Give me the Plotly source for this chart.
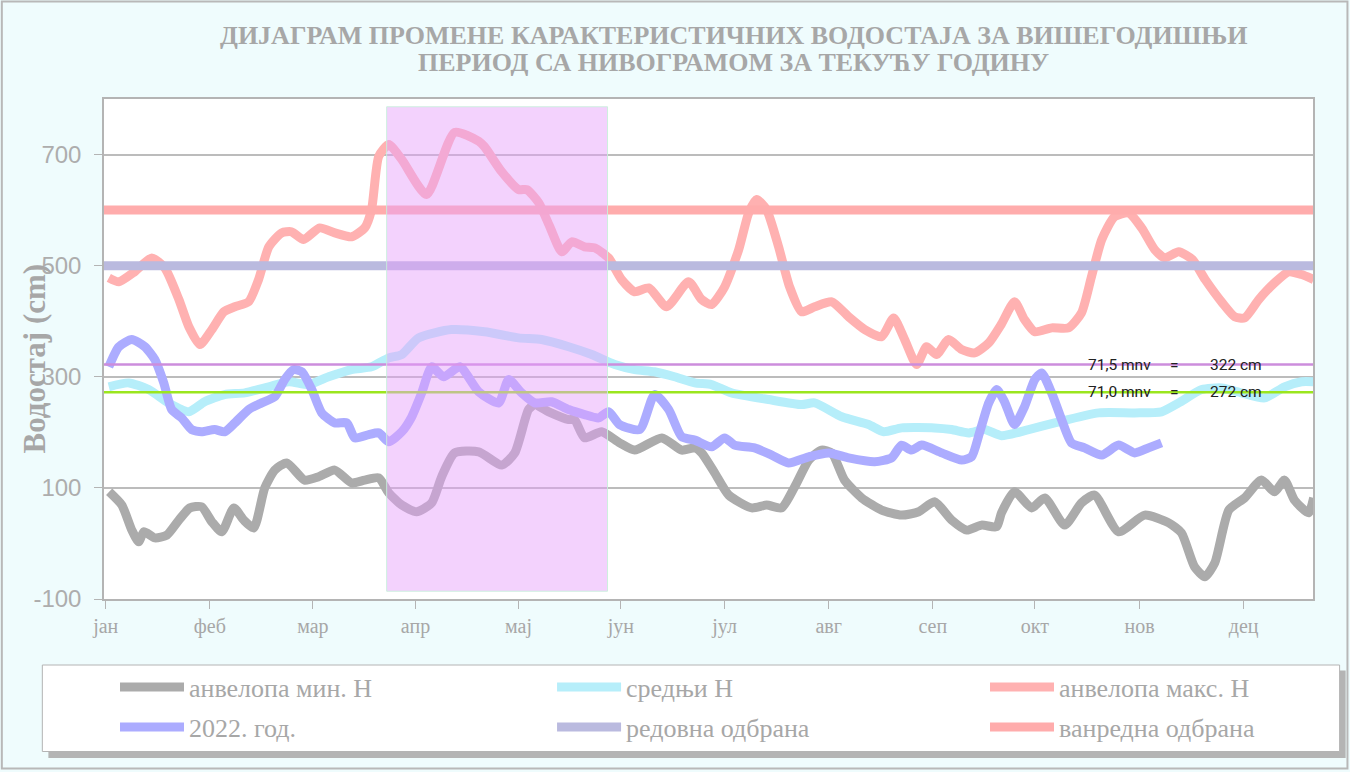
import plotly.graph_objects as go

# --- data (x = day of year index, y = water level in cm) ---
months = ["јан", "феб", "мар", "апр", "мај", "јун", "јул", "авг", "сеп", "окт", "нов", "дец"]
month_pos = [0, 30.3, 60.3, 90.2, 120.2, 150, 180.2, 210.5, 240.8, 270.5, 301, 331.3]
y_ticks = [-100, 100, 300, 500, 700]
y_ticktext = ["-100", "100", "300", "500", "700"]

min_x = [1, 4.7, 7.6, 9.6, 11.1, 14.3, 17.8, 21.3, 24.5, 27.9, 30.9, 33.8, 37.3, 40.2, 43.1, 46.3,
         49.2, 52.7, 57.9, 62, 66.7, 71.6, 75.4, 79.5, 82.4, 86.2, 90.5, 94.9, 97.8, 101.6, 108.6,
         115.3, 119.1, 123.1, 124.9, 129, 134.8, 136.5, 139.4, 144.4, 149.6, 154, 161.9, 167.7,
         171.5, 173.5, 177.3, 181.4, 188.1, 192.4, 196.8, 200.6, 204.7, 208.4, 211.4, 215.1, 220.1,
         225.9, 231.7, 236.7, 241.3, 246.3, 250.7, 255, 259.4, 260.8, 264.6, 269.6, 273.4, 279.2,
         284.1, 287.9, 294.9, 302.5, 309.5, 313.2, 317, 320, 322.9, 327, 331.6, 336.5, 340.3, 343.2,
         346.1, 350.2, 351.7]
min_y = [93, 69, 24, 3, 21, 10, 15, 42, 64, 66, 39, 21, 64, 42, 28, 100,
         132, 145, 114, 120, 132, 109, 114, 118, 91, 69, 57, 73, 120, 163, 165,
         141, 163, 241, 250, 237, 223, 223, 190, 201, 181, 168, 190, 168,
         172, 163, 127, 87, 64, 69, 64, 102, 150, 168, 163, 114, 82,
         60, 51, 57, 75, 42, 24, 33, 30, 55, 93, 64, 82, 33,
         73, 87, 21, 51, 37, 19, -42, -60, -35, 60, 82, 114, 93, 114,
         78, 55, 82]

mean_x = [0.9, 6.7, 12.5, 18.3, 24.2, 28.8, 34.6, 40.5, 47.5, 53.3, 59.1, 64.9, 71.6, 77.4, 82.4,
          86.2, 91.1, 100.7, 110.3, 120.2, 126.9, 134.8, 141.5, 148.2, 154, 159.8, 165.6, 171.5,
          176.4, 182.2, 193, 202.6, 206.4, 214.3, 222.1, 226.5, 231.7, 241.3, 246.3, 251.2, 255.9,
          260.8, 268.7, 276.3, 289.1, 299.6, 307.4, 312.4, 319.1, 324.9, 330.7, 337.4, 343.2, 348.2,
          351.7]
mean_y = [282, 289, 277, 253, 237, 255, 268, 271, 282, 291, 286, 300, 313, 318, 334,
          340, 370, 385, 381, 370, 367, 354, 340, 322, 313, 309, 300, 289,
          286, 271, 259, 250, 253, 228, 214, 201, 208, 208, 205, 199, 205,
          194, 205, 217, 235, 235, 237, 253, 277, 280, 271, 262, 282, 291,
          291]

max_x = [0.9, 3.8, 8.4, 13.4, 17.2, 21.3, 24.2, 27.4, 30.9, 34.4, 37.6, 41.6, 44.5, 47.5, 51.2,
         54.1, 57.6, 62.3, 66.7, 71.6, 75.4, 77.4, 79.5, 82.4, 86.2, 93.4, 101.6, 108.6, 110.3,
         115.3, 120.2, 122.6, 126.1, 129.3, 132.8, 135.7, 139.4, 142.4, 146.4, 150.2, 154, 158.1,
         163.3, 169.7, 173.5, 176.4, 180.2, 184.3, 187.2, 189.5, 192.4, 195.9, 199.1, 202.6, 206.4,
         211.4, 216.3, 221, 225.9, 229.4, 232.6, 236.1, 239, 241.9, 245.4, 249.2, 253, 257.1, 260.8,
         264.6, 267.5, 270.5, 275.4, 280.3, 284.1, 287, 290, 293.7, 297.8, 301.6, 305.4, 308.3,
         312.4, 316.4, 320.1, 325.1, 328.7, 331.6, 335.7, 340.3, 344.4, 348.2, 351.7]
max_y = [478, 471, 489, 514, 496, 439, 390, 358, 385, 417, 426, 435, 475, 534, 559,
         561, 547, 568, 559, 552, 568, 601, 697, 718, 691, 628, 740, 724, 714,
         669, 637, 637, 613, 570, 525, 543, 534, 532, 514, 475, 453, 460,
         426, 471, 439, 430, 462, 529, 595, 619, 601, 534, 462, 417, 426,
         435, 408, 385, 372, 406, 367, 322, 354, 340, 367, 349, 343, 361, 395,
         435, 403, 381, 388, 388, 415, 480, 547, 588, 595, 568, 529, 514,
         525, 511, 475, 433, 408, 406, 439, 469, 489, 484, 475]

y2022_x = [0.9, 3.8, 7.6, 11.4, 14.3, 16.9, 19.2, 22.1, 25, 27.9, 31.7, 34.6, 37.6, 41.6, 45.4,
           49.2, 52.1, 54.7, 57.1, 60, 62.9, 66.7, 70.2, 72.5, 76.6, 79.5, 82.4, 86.2, 89.1, 92,
           94.9, 98.4, 103.1, 108.6, 114.4, 117.3, 121.1, 124.9, 129.8, 134.8, 139.4, 143.5, 146.4,
           149.6, 155.5, 159.8, 163.9, 167.7, 171.5, 176.4, 180.2, 183.1, 188.9, 193.9, 198.8, 204.7,
           210.5, 216.3, 223.9, 228.8, 231.7, 234.6, 237.6, 243.4, 249.2, 252.1, 254.4, 257.1, 259.4,
           261.7, 264.6, 267.5, 270.5, 272.5, 275.4, 278.3, 281.2, 285, 290, 294.9, 299.6, 303.6,
           307.4]
y2022_y = [318, 354, 367, 354, 331, 289, 241, 226, 205, 201, 205, 201, 217, 241, 253,
           264, 295, 313, 309, 277, 235, 217, 217, 190, 196, 199, 183, 201, 228, 271,
           318, 300, 318, 273, 253, 295, 271, 253, 255, 241, 232, 226, 237,
           214, 205, 268, 241, 192, 186, 174, 190, 177, 172, 159, 145, 156,
           163, 154, 147, 154, 177, 168, 177, 163, 150, 156, 199, 253, 277,
           255, 214, 246, 295, 307, 271, 223, 181, 172, 159, 177, 163, 172,
           181]

regular_defence = 500      # редовна одбрана
emergency_defence = 600    # ванредна одбрана
level_715 = 322            # 71,5 mnv
level_710 = 272            # 71,0 mnv
x_span = [-0.5, 351.5]
period_start, period_end = 81.8, 146.1
period_low, period_high = -86, 786

GREY_TXT = "#a7a7a7"
SERIF = "Liberation Serif"

fig = go.Figure()

# legend slots: 3 columns x 2 rows, one legend per entry so the grid is exact
legend_cols = [0.0091, 0.3706, 0.7287]
legend_rows = [-0.176, -0.256]


def thick(x, y, name, color, slot):
    fig.add_trace(go.Scatter(x=x, y=y, name=name, mode="lines",
                             legend="legend" if slot == 1 else f"legend{slot}",
                             line=dict(color=color, width=9, shape="spline", smoothing=0.6)))


thick(min_x, min_y, "анвелопа мин. Н", "#ababab", 1)
thick(mean_x, mean_y, "средњи Н", "#b6eefa", 2)
thick(max_x, max_y, "анвелопа макс. Н", "#ffb1b1", 3)
thick(y2022_x, y2022_y, "2022. год.", "#acacff", 4)
thick(x_span, [regular_defence] * 2, "редовна одбрана", "#babadf", 5)
thick(x_span, [emergency_defence] * 2, "ванредна одбрана", "#ffacac", 6)

# thin reference levels
fig.add_trace(go.Scatter(x=x_span, y=[level_715] * 2, mode="lines", showlegend=False,
                         line=dict(color="#cc8ddc", width=2.5), hoverinfo="skip"))
fig.add_trace(go.Scatter(x=x_span, y=[level_710] * 2, mode="lines", showlegend=False,
                         line=dict(color="#9be61e", width=2.5), hoverinfo="skip"))

ann_font = dict(family="Roboto", size=15.5, color="#222222")
annotations = []
for lvl, mnv in [(level_715, "71,5 mnv"), (level_710, "71,0 mnv")]:
    annotations.append(dict(x=285.3, y=lvl, text=mnv, xanchor="left", showarrow=False, font=ann_font))
    annotations.append(dict(x=311.3, y=lvl, text="=", xanchor="center", showarrow=False, font=ann_font))
    annotations.append(dict(x=320.8, y=lvl, text=f"{lvl} cm", xanchor="left", showarrow=False, font=ann_font))

title_font = dict(family=SERIF, size=26, color=GREY_TXT, weight="bold")
for line, shift in [("ДИЈАГРАМ ПРОМЕНЕ КАРАКТЕРИСТИЧНИХ ВОДОСТАЈА ЗА ВИШЕГОДИШЊИ", 64),
                    ("ПЕРИОД СА НИВОГРАМОМ ЗА ТЕКУЋУ ГОДИНУ", 37)]:
    annotations.append(dict(xref="paper", yref="paper", x=0.521, y=1.0, yshift=shift,
                            xanchor="center", yanchor="middle", text=line, showarrow=False,
                            font=title_font))

# y-axis title
annotations.append(dict(xref="paper", yref="paper", x=-0.0575, y=0.482, textangle=-90,
                        xanchor="center", yanchor="middle", text="Водостај (cm)", showarrow=False,
                        font=dict(family=SERIF, size=31, color=GREY_TXT, weight="bold")))

shapes = [
    # highlighted period
    dict(type="rect", xref="x", yref="y", x0=period_start, x1=period_end, y0=period_low, y1=period_high,
         fillcolor="rgba(229,160,250,0.47)", line=dict(color="rgba(200,240,220,0.9)", width=1),
         layer="above"),
    # legend shadow and box
    dict(type="rect", xref="paper", yref="paper", x0=-0.046, x1=1.027, y0=-0.318, y1=-0.143,
         fillcolor="#b4b4b4", line=dict(width=0), layer="below"),
    dict(type="rect", xref="paper", yref="paper", x0=-0.051, x1=1.022, y0=-0.305, y1=-0.132,
         fillcolor="white", line=dict(color="#b4b4b4", width=1), layer="below"),
    # outer frame
    dict(type="rect", xref="paper", yref="paper", x0=-0.0845, x1=1.0285, y0=-0.339, y1=1.195,
         line=dict(color="#b8b8b8", width=2), layer="below"),
]

legends = {}
for slot in range(1, 7):
    key = "legend" if slot == 1 else f"legend{slot}"
    legends[key] = dict(orientation="h", xanchor="left", yanchor="middle",
                        x=legend_cols[(slot - 1) % 3], y=legend_rows[(slot - 1) // 3],
                        bgcolor="rgba(0,0,0,0)", itemwidth=64,
                        font=dict(family=SERIF, size=26, color=GREY_TXT))

fig.update_layout(
    width=1350, height=772,
    margin=dict(l=104, r=37, t=99, b=173, autoexpand=False),
    paper_bgcolor="#effcfd",
    plot_bgcolor="white",
    showlegend=True,
    annotations=annotations,
    shapes=shapes,
    xaxis=dict(range=x_span, tickvals=month_pos, ticktext=months, showgrid=False, zeroline=False,
               showline=True, mirror=True, linecolor="#b4b4b4", linewidth=1.5,
               ticks="outside", ticklen=8, tickcolor="#b4b4b4",
               tickfont=dict(family=SERIF, size=20, color=GREY_TXT)),
    yaxis=dict(range=[-100, 800], tickvals=y_ticks, ticktext=y_ticktext, showgrid=True,
               gridcolor="#bcbcbc", gridwidth=1.5, zeroline=False, showline=True, mirror=True,
               linecolor="#b4b4b4", linewidth=1.5, ticks="outside", ticklen=8, tickcolor="#b4b4b4",
               ticklabelstandoff=8,
               tickfont=dict(family="Liberation Sans", size=24, color="#adadad")),
    **legends,
)

# the page body has a default 8px margin; drop it so the figure sits at the window origin
fig.write_html("out.html", config={"displayModeBar": False},
               post_script="document.body.style.margin = '0';")
